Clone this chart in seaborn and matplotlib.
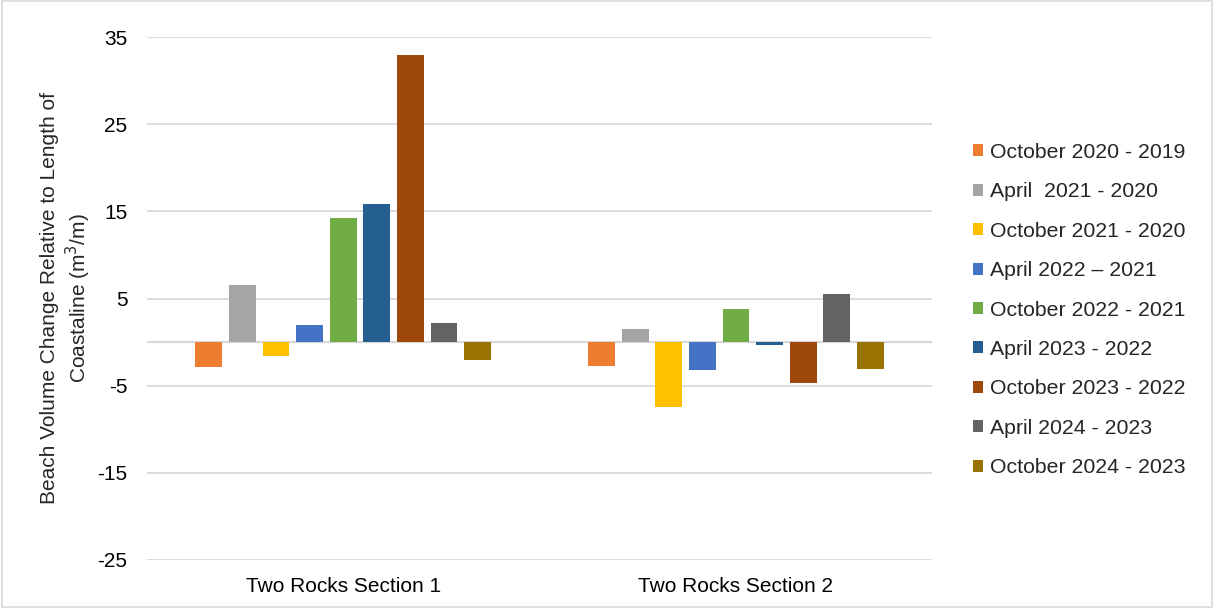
import pandas as pd
import matplotlib.pyplot as plt
import seaborn as sns

sections = ['Two Rocks Section 1', 'Two Rocks Section 2']
periods = ['October 2020 - 2019', 'April  2021 - 2020', 'October 2021 - 2020',
           'April 2022 \u2013 2021', 'October 2022 - 2021', 'April 2023 - 2022',
           'October 2023 - 2022', 'April 2024 - 2023', 'October 2024 - 2023']
section1 = [-2.85, 6.6, -1.65, 2.0, 14.2, 15.9, 33.0, 2.2, -2.1]
section2 = [-2.7, 1.45, -7.4, -3.25, 3.8, -0.35, -4.7, 5.5, -3.05]
colors = ['#ED7D31', '#A5A5A5', '#FFC000', '#4472C4', '#70AD47',
          '#255E91', '#9E480E', '#636363', '#997300']

rows = []
for p, v1, v2 in zip(periods, section1, section2):
    rows.append({'Section': sections[0], 'Period': p, 'Change': v1})
    rows.append({'Section': sections[1], 'Period': p, 'Change': v2})
df = pd.DataFrame(rows)

sns.set_style('white')
plt.rcParams['font.family'] = ['Liberation Sans', 'DejaVu Sans']
plt.rcParams['axes.unicode_minus'] = False

fig = plt.figure(figsize=(12.14, 6.08), dpi=100)
ax = fig.add_axes([0.121, 0.079, 0.647, 0.860])

sns.barplot(data=df, x='Section', y='Change', hue='Period', order=sections,
            hue_order=periods, palette=colors, width=0.77, gap=0.2,
            saturation=1, linewidth=0, ax=ax, zorder=3)

ax.set_ylim(-25, 35)
ax.set_xlim(-0.5, 1.5)
ax.set_yticks([-25, -15, -5, 5, 15, 25, 35])
ax.yaxis.grid(True, color='#D9D9D9', linewidth=1.3, zorder=0)
ax.axhline(0, color='#D9D9D9', linewidth=1.6, zorder=2)
for s in ax.spines.values():
    s.set_visible(False)
ax.tick_params(axis='both', length=0, labelsize=15, colors='#000000')
ax.tick_params(axis='y', pad=14)
ax.tick_params(axis='x', pad=12)
ax.set_xlabel('')
ax.set_ylabel('Beach Volume Change Relative to Length of\nCoastaline (m$^3$/m)',
              fontsize=15, labelpad=3, linespacing=1.2)

ax.legend(title=None, loc='center left', bbox_to_anchor=(1.027, 0.478),
          frameon=False, fontsize=15.3, handlelength=0.5, handleheight=0.5,
          handletextpad=0.3, labelspacing=0.96)

fig.patches.append(plt.Rectangle((0.002, 0.002), 0.996, 0.996, transform=fig.transFigure,
                                 fill=False, edgecolor='#D9D9D9', linewidth=1.2))

fig.savefig('out.png', dpi=100)
